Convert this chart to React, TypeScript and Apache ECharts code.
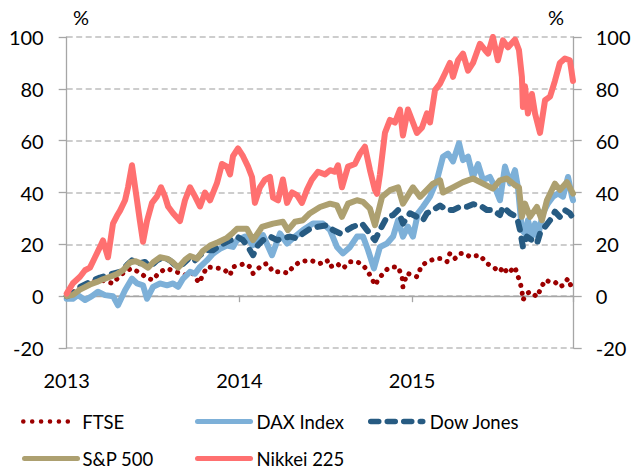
import React, { useEffect, useRef } from "react";
import * as echarts from "echarts";

// x positions are calendar time in decimal years
const yearTicks = [2013, 2014, 2015];
const xMin = 2013;
const xMax = 2015.936;
const yMin = -20;
const yMax = 100;
const yStep = 20;

const seriesNames = ["FTSE", "DAX Index", "Dow Jones", "S&P 500", "Nikkei 225"];

const ftse: [number, number][] = [
  [2013.0, 0], [2013.048, 2], [2013.089, 4], [2013.123, 5.1], [2013.164, 6], [2013.21, 6],
  [2013.268, 4.9], [2013.309, 8], [2013.349, 10], [2013.378, 10.7], [2013.424, 9], [2013.465, 7],
  [2013.5, 6.2], [2013.529, 8.7], [2013.558, 10], [2013.581, 10.7], [2013.627, 9.5], [2013.668, 8.7],
  [2013.697, 8], [2013.732, 8.7], [2013.766, 5.1], [2013.812, 11.3], [2013.847, 11], [2013.888, 10.7],
  [2013.917, 10], [2013.946, 8.1], [2013.963, 11.3], [2014.004, 12], [2014.033, 12.6], [2014.062, 11.3],
  [2014.079, 8.8], [2014.131, 12], [2014.16, 12.6], [2014.195, 9.4], [2014.252, 9.4], [2014.281, 8.8],
  [2014.31, 11.3], [2014.351, 13.3], [2014.409, 13.9], [2014.467, 12.6], [2014.507, 13.9], [2014.525, 11.3],
  [2014.565, 12.6], [2014.6, 10.7], [2014.641, 13.3], [2014.681, 13.3], [2014.716, 12], [2014.739, 10],
  [2014.768, 6.8], [2014.785, 4.2], [2014.803, 6.2], [2014.832, 8.8], [2014.86, 10.7], [2014.89, 11.3],
  [2014.919, 11.3], [2014.942, 7.5], [2014.947, 3.6], [2014.971, 8.8], [2015.005, 8.1], [2015.028, 7.5],
  [2015.057, 12], [2015.092, 13.3], [2015.133, 14.5], [2015.162, 14.5], [2015.202, 13.3], [2015.219, 16.5],
  [2015.248, 14.5], [2015.277, 16.5], [2015.306, 16.5], [2015.335, 15.2], [2015.393, 15.8], [2015.434, 12.6],
  [2015.468, 11.3], [2015.509, 9.4], [2015.526, 11.3], [2015.555, 8.8], [2015.596, 11.3], [2015.607, 8.8],
  [2015.625, 5.5], [2015.636, 2.3], [2015.642, -1.5], [2015.665, 1], [2015.683, 1.7], [2015.7, 1],
  [2015.723, -0.3], [2015.741, 2.3], [2015.77, 6.2], [2015.799, 5.5], [2015.827, 5.5], [2015.856, 3.6],
  [2015.874, 4.2], [2015.903, 6.8], [2015.926, 3],
];

const dax: [number, number][] = [
  [2013.0, -1], [2013.036, -1], [2013.065, 0.4], [2013.106, -1.5], [2013.146, 0], [2013.181, 1.7],
  [2013.222, 0.4], [2013.268, 0], [2013.297, -3.5], [2013.338, 2.3], [2013.378, 6.8], [2013.407, 4.9],
  [2013.442, 4.2], [2013.465, -1], [2013.5, 3.6], [2013.54, 4.9], [2013.581, 4.2], [2013.616, 4.9],
  [2013.645, 3.6], [2013.674, 6.8], [2013.714, 9.4], [2013.743, 8.7], [2013.772, 11.3], [2013.812, 13.8],
  [2013.847, 16.4], [2013.888, 18.3], [2013.928, 19.5], [2013.963, 19], [2013.986, 21.6], [2014.033, 23],
  [2014.079, 19.7], [2014.102, 21.6], [2014.137, 23.5], [2014.189, 15.8], [2014.235, 24.2], [2014.276, 20.3],
  [2014.322, 23], [2014.368, 25.5], [2014.426, 28], [2014.484, 28], [2014.525, 25.5], [2014.565, 19],
  [2014.6, 16.5], [2014.641, 19], [2014.681, 23], [2014.716, 23], [2014.745, 17.8], [2014.779, 10.7],
  [2014.814, 19], [2014.855, 20.3], [2014.89, 23], [2014.919, 29.3], [2014.947, 23], [2014.976, 26.8],
  [2015.005, 23], [2015.034, 32], [2015.063, 34.5], [2015.104, 38.4], [2015.144, 44.8], [2015.179, 53.8],
  [2015.208, 55], [2015.237, 52], [2015.272, 59], [2015.295, 52.5], [2015.324, 53.8], [2015.353, 46],
  [2015.382, 51], [2015.411, 44.8], [2015.451, 46], [2015.48, 42], [2015.509, 37], [2015.538, 50],
  [2015.567, 43.5], [2015.596, 48.6], [2015.613, 42], [2015.636, 25.5], [2015.654, 24.2], [2015.671, 29.3],
  [2015.694, 23], [2015.712, 28], [2015.729, 23], [2015.758, 32], [2015.787, 35.8], [2015.816, 38.4],
  [2015.845, 39.6], [2015.874, 38.4], [2015.903, 46], [2015.926, 38.4], [2015.932, 37],
];

const dow: [number, number][] = [
  [2013.0, 0], [2013.036, 1], [2013.077, 3.6], [2013.118, 4.9], [2013.152, 6], [2013.193, 7.2],
  [2013.233, 8], [2013.268, 8.7], [2013.309, 9.4], [2013.349, 12], [2013.378, 13.8], [2013.413, 12.5],
  [2013.453, 13.2], [2013.482, 11.3], [2013.523, 13.8], [2013.558, 15], [2013.598, 13.8], [2013.639, 11.3],
  [2013.674, 12.5], [2013.714, 15], [2013.743, 13.8], [2013.772, 15.8], [2013.812, 17.7], [2013.847, 17.7],
  [2013.888, 19.6], [2013.928, 21], [2013.963, 22], [2013.986, 23], [2014.021, 21.6], [2014.05, 19],
  [2014.079, 15.8], [2014.108, 19.7], [2014.137, 21.6], [2014.177, 23], [2014.218, 21.6], [2014.252, 22.3],
  [2014.293, 23], [2014.334, 22.3], [2014.368, 24.2], [2014.409, 26], [2014.455, 26.8], [2014.507, 27.4],
  [2014.542, 25.5], [2014.583, 24.2], [2014.623, 25.5], [2014.658, 26.8], [2014.71, 28], [2014.739, 25.5],
  [2014.768, 23], [2014.785, 21.6], [2014.814, 25.5], [2014.855, 30.6], [2014.89, 31.3], [2014.919, 33.2],
  [2014.947, 28], [2014.988, 32], [2015.028, 30.6], [2015.063, 29.3], [2015.086, 32], [2015.121, 33.2],
  [2015.162, 35], [2015.202, 33.2], [2015.237, 33.2], [2015.277, 34.5], [2015.318, 34.5], [2015.353, 35.5],
  [2015.393, 35], [2015.434, 33.2], [2015.468, 33.2], [2015.509, 31.3], [2015.526, 34.5], [2015.567, 32],
  [2015.607, 30.6], [2015.625, 25.5], [2015.642, 19], [2015.665, 23], [2015.694, 21.6], [2015.723, 20.3],
  [2015.741, 24.2], [2015.77, 26.8], [2015.799, 29.3], [2015.827, 32.6], [2015.856, 30.6], [2015.885, 33.2],
  [2015.914, 32], [2015.932, 30],
];

const sp500: [number, number][] = [
  [2013.0, 0], [2013.036, 0.5], [2013.077, 2.5], [2013.106, 3.5], [2013.135, 4.5], [2013.175, 5.5],
  [2013.21, 6.5], [2013.251, 7.5], [2013.291, 8.5], [2013.326, 10], [2013.367, 13], [2013.396, 13.5],
  [2013.436, 12.5], [2013.471, 11], [2013.5, 13], [2013.54, 15], [2013.581, 14.5], [2013.616, 13],
  [2013.645, 11], [2013.685, 14], [2013.714, 15.5], [2013.755, 14.5], [2013.789, 17.5], [2013.83, 19.5],
  [2013.876, 20.8], [2013.928, 22.5], [2013.963, 24.5], [2013.986, 26], [2014.044, 26], [2014.079, 21.6],
  [2014.131, 26.7], [2014.195, 28], [2014.252, 28.7], [2014.281, 25.5], [2014.322, 28.7], [2014.368, 29.3],
  [2014.409, 32], [2014.467, 34.4], [2014.525, 35.7], [2014.565, 35], [2014.594, 30.6], [2014.629, 35.7],
  [2014.681, 37], [2014.716, 36.4], [2014.756, 33.8], [2014.785, 27.4], [2014.826, 38.3], [2014.872, 40.9],
  [2014.919, 42], [2014.947, 35.7], [2015.005, 42], [2015.046, 38.3], [2015.086, 41], [2015.121, 43.4],
  [2015.162, 44.7], [2015.179, 40], [2015.237, 42], [2015.295, 44], [2015.353, 45.4], [2015.411, 43.4],
  [2015.468, 41.5], [2015.509, 44.7], [2015.549, 45.4], [2015.596, 42.8], [2015.619, 42], [2015.636, 30.6],
  [2015.654, 35.7], [2015.683, 30.6], [2015.723, 34.4], [2015.752, 29.3], [2015.781, 37], [2015.827, 43.4],
  [2015.856, 41], [2015.897, 44], [2015.932, 39.6],
];

const nikkei: [number, number][] = [
  [2013.0, 1], [2013.036, 5], [2013.077, 7.5], [2013.106, 10], [2013.135, 11], [2013.164, 15],
  [2013.193, 19], [2013.21, 21.5], [2013.239, 15], [2013.268, 28], [2013.291, 31], [2013.309, 33],
  [2013.338, 37], [2013.355, 42], [2013.378, 50.5], [2013.407, 37], [2013.424, 29], [2013.442, 21],
  [2013.465, 29], [2013.494, 36], [2013.523, 38.5], [2013.546, 42], [2013.569, 38.5], [2013.587, 34.6],
  [2013.616, 32], [2013.656, 29], [2013.685, 37], [2013.714, 42], [2013.743, 38.5], [2013.772, 34.6],
  [2013.801, 40], [2013.83, 37], [2013.87, 43.6], [2013.899, 51], [2013.928, 50], [2013.946, 47],
  [2013.963, 54], [2013.992, 57], [2014.021, 54], [2014.05, 50], [2014.073, 46], [2014.09, 36],
  [2014.119, 42], [2014.148, 45], [2014.177, 46], [2014.195, 38], [2014.224, 37], [2014.252, 45],
  [2014.276, 36], [2014.305, 40], [2014.334, 39], [2014.362, 36], [2014.391, 41], [2014.42, 45],
  [2014.455, 48], [2014.496, 47], [2014.525, 48.6], [2014.554, 48], [2014.571, 50.5], [2014.594, 42],
  [2014.629, 50], [2014.669, 51], [2014.698, 55], [2014.727, 57.7], [2014.756, 48.7], [2014.785, 41],
  [2014.797, 39.5], [2014.814, 47], [2014.843, 63], [2014.872, 68], [2014.901, 67], [2014.93, 72],
  [2014.947, 62], [2014.976, 72], [2015.005, 67], [2015.028, 63], [2015.057, 65], [2015.086, 70.5],
  [2015.104, 67], [2015.133, 79.5], [2015.162, 82], [2015.191, 86], [2015.219, 90], [2015.237, 84.6],
  [2015.266, 91], [2015.295, 93.6], [2015.324, 87], [2015.353, 90], [2015.393, 97.4], [2015.422, 95],
  [2015.44, 93.6], [2015.468, 100], [2015.497, 91], [2015.526, 98.7], [2015.555, 96], [2015.596, 99],
  [2015.619, 95], [2015.636, 84.6], [2015.642, 73], [2015.654, 81], [2015.671, 70.5], [2015.694, 78],
  [2015.712, 70.5], [2015.741, 63], [2015.77, 75.6], [2015.799, 77], [2015.827, 83], [2015.856, 90],
  [2015.885, 91.7], [2015.914, 91], [2015.932, 83],
];

const FONT = "Lato";

export default function App() {
  const ref = useRef<HTMLDivElement>(null);

  useEffect(() => {
    if (!ref.current) return;
    const chart = echarts.init(ref.current, null, { renderer: "svg" });

    const axisGray = "#A6A6A6";
    const gridGray = "#BDBDBD";

    const lineStyles: any[] = [
      { color: "#9C0000", width: 5, type: [0.1, 8], cap: "round", join: "round" },
      { color: "#7DB0D8", width: 6, type: "solid", cap: "round", join: "round" },
      { color: "#275B82", width: 6, type: [8, 9], cap: "round", join: "round" },
      { color: "#ADA070", width: 6, type: "solid", cap: "round", join: "round" },
      { color: "#FF7070", width: 6, type: "solid", cap: "round", join: "round" },
    ];
    const legendLine: any[] = [
      { width: 4.5, type: [0.1, 8.8] },
      { width: 5, type: "solid" },
      { width: 5.5, type: [8, 8.5] },
      { width: 5, type: "solid" },
      { width: 5, type: "solid" },
    ];
    const datasets = [ftse, dax, dow, sp500, nikkei];

    const series = seriesNames.map((name, i) => ({
      name,
      type: "line",
      xAxisIndex: 0,
      yAxisIndex: 0,
      data: datasets[i],
      symbol: "none",
      showSymbol: false,
      smooth: false,
      silent: true,
      clip: true,
      lineStyle: lineStyles[i],
      itemStyle: { color: lineStyles[i].color },
      emphasis: { disabled: true },
    }));

    const legendPos = [
      { left: 21, top: 412, w: 53, pad: 1 },
      { left: 195, top: 412, w: 53, pad: 1 },
      { left: 368, top: 412, w: 52, pad: 2 },
      { left: 22, top: 449, w: 53, pad: 0 },
      { left: 195, top: 449, w: 53, pad: 1 },
    ];
    const legends = seriesNames.map((name, i) => ({
      data: [name],
      left: legendPos[i].left,
      top: legendPos[i].top,
      padding: 0,
      itemWidth: legendPos[i].w,
      itemHeight: 16,
      selectedMode: false,
      itemStyle: { opacity: 0, borderWidth: 0 },
      lineStyle: {
        width: legendLine[i].width,
        type: legendLine[i].type,
        cap: "round",
        color: lineStyles[i].color,
        opacity: 1,
      },
      textStyle: {
        fontFamily: FONT,
        fontSize: 18.5,
        color: "#000",
        padding: [0, 0, 0, legendPos[i].pad],
      },
    }));

    const yAxisCommon = {
      type: "value",
      min: yMin,
      max: yMax,
      interval: yStep,
      axisLine: { show: true, onZero: false, lineStyle: { color: axisGray, width: 1.3 } },
      axisTick: { show: true, inside: false, length: 8, lineStyle: { color: axisGray, width: 1.3 } },
      axisLabel: { fontFamily: FONT, fontSize: 20, color: "#000" },
    };

    const option: any = {
      animation: false,
      backgroundColor: "#fff",
      grid: { left: 66.7, right: 61.3, top: 37, bottom: 124, containLabel: false, outerBoundsMode: "none" },
      xAxis: [
        {
          type: "value",
          min: xMin,
          max: xMax,
          interval: 1,
          position: "bottom",
          axisLine: { show: true, onZero: true, lineStyle: { color: axisGray, width: 1.3 } },
          axisTick: { show: true, inside: false, length: 6, lineStyle: { color: axisGray, width: 1.3 } },
          axisLabel: { show: false },
          splitLine: { show: false },
        },
        {
          type: "value",
          min: xMin,
          max: xMax,
          interval: 1,
          position: "bottom",
          axisLine: { show: false, onZero: false },
          axisTick: { show: false },
          splitLine: { show: false },
          axisLabel: {
            show: true,
            margin: 22,
            showMaxLabel: false,
            fontFamily: FONT,
            fontSize: 20,
            color: "#000",
            formatter: (v: number) => (yearTicks.indexOf(v) >= 0 ? String(v) : ""),
          },
        },
      ],
      yAxis: [
        {
          ...yAxisCommon,
          position: "left",
          axisLabel: { ...yAxisCommon.axisLabel, margin: 23 },
          splitLine: { show: true, lineStyle: { color: gridGray, width: 1.5, type: [6, 3.5] } },
        },
        {
          ...yAxisCommon,
          position: "right",
          axisLabel: { ...yAxisCommon.axisLabel, margin: 22 },
          splitLine: { show: false },
        },
      ],
      legend: legends,
      series,
      graphic: [
        { type: "text", left: 73, top: 7, style: { text: "%", fontFamily: FONT, fontSize: 20, fill: "#000" } },
        { type: "text", left: 548, top: 7, style: { text: "%", fontFamily: FONT, fontSize: 20, fill: "#000" } },
      ],
    };

    chart.setOption(option);
    return () => chart.dispose();
  }, []);

  return (
    <div
      ref={ref}
      style={{ position: "fixed", left: 0, top: 0, width: 635, height: 472, background: "#fff" }}
    />
  );
}
